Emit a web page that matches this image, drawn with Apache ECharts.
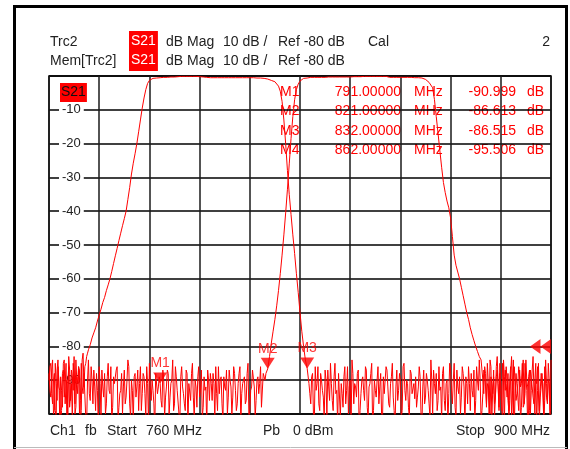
<!DOCTYPE html>
<html>
<head>
<meta charset="utf-8">
<script src="https://cdn.jsdelivr.net/npm/echarts@6/dist/echarts.min.js"></script>
<style>
html,body{margin:0;padding:0;background:#fff;}
#c{width:570px;height:449px;}
</style>
</head>
<body>
<div id="c"></div>
<script>
// Sweep definition
const START = 760, STOP = 900, STEP = 0.5;
const X_INTERVAL = 14;
const Y_MIN = -100, Y_MAX = 0, Y_INTERVAL = 10;

// Trace A (left passband filter), segments with their start frequency
const aNoiseLo = [-88,-95,-84,-99,-91,-86,-102,-93,-85,-97,-90,-83,-96,-101,-88,-84,-94,-87,-99,-82,-86,-83];
const aNoiseLoMid = [-93,-87,-100,-85,-96,-90,-89,-98,-84,-92,-101,-87,-91,-85,-97,-90,-86,-103,-84,-92,-85,-82];
const aRise = [-81,-79.5,-77.5,-76,-74.5,-72.5,-70.7,-69,-67,-65.5,-63.5,-61.8,-60,-57.8,-55.5,-53.2,-51,-48.7,-46.5,-44.3,-42.2,-40,-36.5,-33,-29,-25.8,-23,-20,-16.5,-13,-9.5,-6.5,-4,-2.2,-1.3,-0.9,-0.7];
const aFlat = [-0.6,-0.6,-0.5,-0.5,-0.5,-0.4,-0.4,-0.4,-0.4,-0.3,-0.3,-0.3,-0.3,-0.2,-0.2,-0.1,-0.1,-0.1,-0.1,-0.1,-0.1,-0.1,-0.1,-0.1,-0.1,-0.2,-0.2,-0.3,-0.4,-0.4,-0.5,-0.5,-0.5,-0.5,-0.5,-0.5,-0.5,-0.5,-0.5,-0.5,-0.5,-0.5,-0.5,-0.5,-0.5,-0.5,-0.5,-0.5,-0.5,-0.5,-0.5,-0.5,-0.5,-0.5,-0.5,-0.5,-0.6,-0.6,-0.6,-0.6,-0.7,-0.7];
const aFall = [-0.8,-0.9,-1.1,-1.3,-1.5,-1.7,-2.2,-3,-4.5,-7.5,-13,-20,-28,-35,-41,-47,-52.5,-58.5,-64,-70,-75.5,-80,-84,-86.5];
const aNoiseHi = [
  -91,-97,-88,-102,-93,-86,-99,-90,-95,-87,
  -101,-92,-85,-96,-89,-94,-103,-88,-91,-98,
  -86,-93,-100,-90,-84,-97,-92,-88,-105,-94,
  -89,-96,-87,-101,-91,-85,-99,-93,-90,-97,
  -88,-102,-94,-86,-92,-98,-89,-95,-104,-87,
  -93,-90,-99,-85,-96,-91,-101,-88,-94,-95.5,
  -98,-92,-89,-103,-87,-95,-90,-97,-84,-100,
  -91,-88,-96,-93,-102,-86,-99,-90,-94,-87,
  -97,-85,-101,-92,-89,-95,-88,-104,-91,-86,
  -99,-93,-87,-96,-90,-84,-102,-94,-88,-97,
  -85,-100,-91,-87,-95,-83,-98,-92,-103,-89,
  -86,-96,-90,-101,-84,-94,-88,-99,-92,-85,
  -97,-89,-104,-87,-93,-83,-100,-91,-86,-95,
  -88,-102,-84,-96,-90,-99];
const aNoiseHiMid = [
  -94,-89,-100,-86,-91,-97,-88,-93,-102,-90,
  -87,-96,-91,-99,-85,-93,-88,-101,-94,-89,
  -97,-86,-92,-104,-88,-91,-95,-87,-99,-90,
  -93,-86,-98,-92,-88,-103,-90,-95,-86,-92,
  -100,-89,-94,-87,-97,-91,-85,-99,-92,-96,
  -88,-101,-86,-93,-90,-98,-87,-94,-91,-89,
  -95,-86,-100,-92,-97,-88,-93,-101,-90,-87,
  -94,-99,-86,-92,-88,-96,-91,-103,-85,-93,
  -90,-98,-87,-94,-100,-86,-92,-89,-97,-91,
  -88,-95,-102,-86,-93,-90,-99,-87,-92,-85,
  -96,-89,-94,-101,-86,-91,-88,-97,-84,-93,
  -90,-99,-86,-92,-104,-88,-95,-87,-91,-98,
  -85,-93,-89,-100,-87,-94,-90,-86,-102,-92,
  -88,-96,-91,-85,-99];

// Trace B (right passband filter)
const bNoiseLo = [
  -90,-85,-97,-88,-101,-84,-93,-99,-87,-92,
  -104,-86,-95,-89,-83,-98,-91,-100,-85,-94,
  -88,-103,-84,-96,-90,-87,-99,-93,-86,-101,
  -92,-88,-97,-85,-94,-102,-89,-91,-86,-98,
  -93,-100,-87,-95,-84,-97,-90,-103,-88,-92,
  -99,-86,-94,-89,-101,-91,-85,-96,-93,-105,
  -88,-92,-91,-98,-90,-95,-87,-100,-91,-84,
  -97,-89,-93,-102,-86,-94,-99,-88,-91,-96,
  -85,-101,-92,-89,-95,-87,-98,-93,-104,-90,
  -88,-96,-91,-86,-99,-94,-89,-102,-92,-87,
  -95,-90,-100,-86,-93,-97,-88,-103,-91,-89,
  -96,-85,-99,-92,-87,-101,-90,-94,-86,-98,
  -89,-88];
const bNoiseLoMid = [
  -86,-94,-90,-99,-87,-92,-103,-88,-95,-85,
  -91,-98,-87,-93,-100,-89,-86,-96,-92,-88,
  -101,-90,-94,-86,-97,-92,-88,-104,-91,-87,
  -95,-100,-89,-93,-86,-98,-91,-87,-102,-94,
  -88,-92,-97,-90,-86,-101,-93,-89,-95,-87,
  -91,-99,-88,-94,-86,-103,-92,-90,-97,-88,
  -94,-89,-96,-87,-101,-92,-88,-95,-90,-99,
  -86,-93,-100,-89,-92,-97,-87,-104,-91,-88,
  -95,-90,-98,-86,-93,-101,-89,-92,-87,-96,
  -91,-88,-102,-94,-86,-90,-97,-89,-93,-100,
  -87,-92,-95,-88,-99,-91,-86,-94,-90,-97,
  -88,-101,-93,-87,-92,-96,-89,-91,-98,-88,
  -90,-88];
const bRise = [-86.613,-83,-79,-75.5,-72,-68,-63.5,-58.5,-53,-47,-40.5,-33.5,-26,-18.5,-12,-7,-4,-2.4,-1.5,-1,-0.7,-0.6];
const bFlat = [-0.6,-0.5,
  -0.4,-0.4,-0.4,-0.4,-0.4,-0.4,-0.4,-0.4,-0.4,-0.4,-0.3,-0.3,-0.3,-0.3,-0.3,-0.3,-0.3,-0.3,-0.3,-0.3,-0.3,-0.3,-0.3,-0.3,-0.2,-0.2,-0.2,-0.2,-0.2,-0.2,
  -0.1,-0.1,-0.1,-0.1,-0.1,-0.1,-0.1,-0.1,-0.1,-0.1,-0.1,-0.1,-0.1,
  -0.3,-0.4,-0.4,-0.4,-0.4,-0.4,-0.4,-0.4,-0.4,-0.4,-0.4,-0.4,-0.4,-0.4,-0.4,-0.5,-0.5,-0.5,-0.5];
const bFall = [-0.6,-0.8,-1.0,-1.4,-1.9,-2.4,-3.5,-7,-12,-17,-22,-27,-31.5,-34.5,-37,-39,-42,-47.5,-53,-56,-58,-60,-62.5,-65,-67.5,-70,-72,-74.5,-76.5,-78.3,-80,-81.5,-83,-84];
const bNoiseHi = [
  -90,-86,-98,-92,-84,-101,-89,-95,-87,-99,
  -93,-85,-103,-91,-88,-96,-83,-100,-90,-94,
  -86,-102,-89,-97,-84,-92,-99,-87,-95,-90,
  -104,-85,-93,-88,-100,-86,-97,-91,-84];
const bNoiseHiMid = [
  -94,-88,-91,-100,-86,-93,-97,-89,-92,-85,
  -99,-90,-87,-95,-102,-88,-93,-86,-96,-91,
  -89,-98,-84,-94,-90,-101,-87,-92,-97,-85,
  -93,-99,-88,-91,-86,-95,-90,-103];

// Markers
const markerNames = ['M1','M2','M3','M4'];
const markerFreq = [791, 821, 832, 862];
const markerVal = [-90.999, -86.613, -86.515, -95.506];
const markerShown = [true, true, true, false];
const refLevel = -80;

function seg(start, vals){ return vals.map((v,k)=>[start + k*STEP, v]); }
function merge(){ return [].concat.apply([], arguments).sort((p,q)=>p[0]-q[0]); }
const traceA = merge(seg(760,aNoiseLo), seg(760.25,aNoiseLoMid), seg(771,aRise), seg(789.5,aFlat), seg(820.5,aFall), seg(832.5,aNoiseHi), seg(832.75,aNoiseHiMid));
const traceB = merge(seg(760,bNoiseLo), seg(760.25,bNoiseLoMid), seg(821,bRise), seg(832,bFlat), seg(864,bFall), seg(881,bNoiseHi), seg(881.25,bNoiseHiMid));

const FONT = '"Liberation Sans", Arial, sans-serif';
const RED = '#ff0000';
const TXT = '#222';

function T(x, y, text, opt){
  opt = opt || {};
  return {type:'text', x:x, y:y, z: opt.z === undefined ? 10 : opt.z, silent:true,
    style:Object.assign({text:text, fill: opt.fill || TXT, fontSize: opt.size || 14, fontFamily: FONT,
      align: opt.align || 'left', verticalAlign:'middle'}, opt.style || {})};
}

const chart = echarts.init(document.getElementById('c'), null, {renderer:'canvas'});

const graphics = [
  {type:'rect', z:20, silent:true, shape:{x:14.5, y:6.5, width:552, height:470}, style:{fill:'none', stroke:'#000', lineWidth:3}},
  {type:'line', z:20, silent:true, shape:{x1:14, y1:447.5, x2:567, y2:447.5}, style:{stroke:'#bbb', lineWidth:1}},
  T(50, 42, 'Trc2'),
  T(50, 61, 'Mem[Trc2]'),
  {type:'text', x:129, y:31, z:10, silent:true, style:{text:'S21\nS21', fill:'#fff', fontSize:14, fontFamily:FONT, lineHeight:19, backgroundColor:RED, padding:[1,2,1,2], align:'left', verticalAlign:'top'}},
  T(166, 42, 'dB Mag'), T(223, 42, '10 dB /'), T(278, 42, 'Ref -80 dB'), T(368, 42, 'Cal'), T(550, 42, '2', {align:'right'}),
  T(166, 61, 'dB Mag'), T(223, 61, '10 dB /'), T(278, 61, 'Ref -80 dB'),
  {type:'text', x:60, y:83, z:10, silent:true, style:{text:'S21', fill:'#111', fontSize:14, fontFamily:FONT, lineHeight:17, backgroundColor:RED, padding:[1,1,1,1], align:'left', verticalAlign:'top'}},
  T(50, 431, 'Ch1'), T(85, 431, 'fb'), T(107, 431, 'Start'), T(146, 431, '760 MHz'),
  T(263, 431, 'Pb'), T(293, 431, '0 dBm'), T(456, 431, 'Stop'), T(550, 431, '900 MHz', {align:'right'})
];
const rowsY = [92, 111.5, 131, 150.5];
markerNames.forEach((m, i) => {
  const y = rowsY[i];
  graphics.push(T(280, y, m, {fill:RED, z:-1}));
  graphics.push(T(401, y, markerFreq[i].toFixed(5), {fill:RED, align:'right', z:-1}));
  graphics.push(T(414, y, 'MHz', {fill:RED, z:-1}));
  graphics.push(T(516, y, markerVal[i].toFixed(3), {fill:RED, align:'right', z:-1}));
  graphics.push(T(527, y, 'dB', {fill:RED, z:-1}));
});

const markerData = [];
markerNames.forEach((m,i)=>{ if (markerShown[i]) markerData.push({name:m, value:[markerFreq[i], markerVal[i]]}); });

const option = {
  backgroundColor:'#fff',
  animation:false,
  textStyle:{fontFamily:FONT},
  grid:{left:49, top:76, right:19, bottom:35, show:true, borderColor:'#000', borderWidth:1.5},
  xAxis:{type:'value', min:START, max:STOP, interval:X_INTERVAL,
    axisLine:{show:false}, axisTick:{show:false}, axisLabel:{show:false},
    splitLine:{show:true, lineStyle:{color:'#1a1a1a', width:1.5}}},
  yAxis:{type:'value', min:Y_MIN, max:Y_MAX, interval:Y_INTERVAL,
    axisLine:{show:false}, axisTick:{show:false},
    axisLabel:{inside:true, margin:10, color:'#222', fontSize:13, fontFamily:FONT,
      backgroundColor:'#fff', padding:[0,3,0,3],
      formatter:v => (v === Y_MAX || v === Y_MIN) ? '' : String(v)},
    splitLine:{show:true, lineStyle:{color:'#000', width:1.5}}},
  graphic:graphics,
  series:[
    {type:'line', data:traceB, showSymbol:false, symbol:'none', lineStyle:{color:RED, width:1}, z:3},
    {type:'line', data:traceA, showSymbol:false, symbol:'none', lineStyle:{color:RED, width:1}, z:3},
    {type:'scatter', data:markerData, z:5, clip:false,
      symbol:'path://M0,0 L14,0 L7,11 Z', symbolSize:[14,11], symbolOffset:[0,'-50%'],
      itemStyle:{color:RED},
      label:{show:true, position:'top', distance:2, formatter:p=>p.name, color:RED, fontSize:14, fontFamily:FONT}},
    {type:'scatter', data:[[STOP, refLevel]], z:5, clip:false, silent:true,
      symbol:'path://M0,5 L10,0 L10,10 Z M10,5 L20,0 L20,10 Z', symbolSize:[21,15], symbolOffset:[-10.5,0],
      itemStyle:{color:RED}}
  ]
};
chart.setOption(option);
</script>
</body>
</html>
